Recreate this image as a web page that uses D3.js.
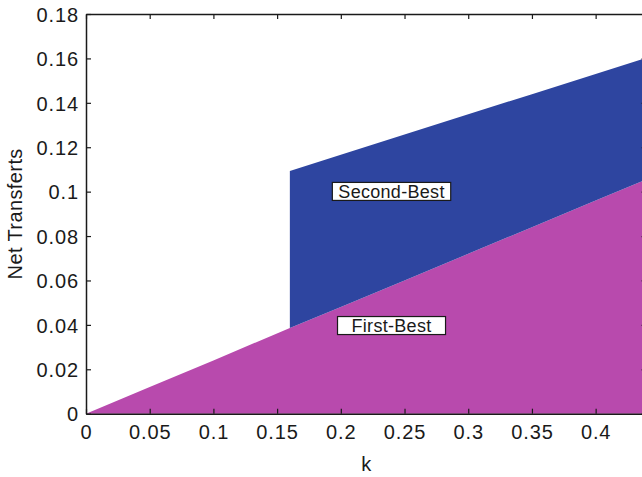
<!DOCTYPE html>
<html>
<head>
<meta charset="utf-8">
<script src="https://cdn.jsdelivr.net/npm/d3@7"></script>
<style>
  html, body { margin: 0; padding: 0; background: #fff; }
  svg { display: block; }
  text { font-family: "Liberation Sans", Arial, Helvetica, sans-serif; fill: #1a1a1a; }
</style>
</head>
<body>
<svg id="chart" width="642" height="477"></svg>
<script>
// ---- data ----
const kValues      = [0, 0.05, 0.10, 0.16, 0.20, 0.25, 0.30, 0.35, 0.40, 0.44];
const firstBest    = [0, 0.012, 0.024, 0.0386, 0.048, 0.060, 0.072, 0.084, 0.096, 0.1056];
const secondBestK  = [0.16, 0.20, 0.25, 0.30, 0.35, 0.40, 0.44];
const secondBest   = [0.1093, 0.1166, 0.1257, 0.1348, 0.1439, 0.1530, 0.1603];
const xTicks = [0, 0.05, 0.1, 0.15, 0.2, 0.25, 0.3, 0.35, 0.4];
const xTickLabels = ["0", "0.05", "0.1", "0.15", "0.2", "0.25", "0.3", "0.35", "0.4"];
const yTicks = [0, 0.02, 0.04, 0.06, 0.08, 0.1, 0.12, 0.14, 0.16, 0.18];
const yTickLabels = ["0", "0.02", "0.04", "0.06", "0.08", "0.1", "0.12", "0.14", "0.16", "0.18"];
const labelTexts = ["Second-Best", "First-Best"];
const labelK     = [0.2398, 0.2398];
const labelV     = [0.1001, 0.0397];

// ---- layout ----
const margin = {left: 86, top: 14};
const plotW = 560.6, plotH = 399.7;
const svg = d3.select("#chart");

const x = d3.scaleLinear().domain([0, 0.44]).range([margin.left, margin.left + plotW]);
const y = d3.scaleLinear().domain([0, 0.18]).range([margin.top + plotH, margin.top]);

const purple = "#b84aad";
const blue = "#2e45a0";

// first-best region
const fbData = kValues.map((k, i) => ({k, v: firstBest[i]}));
svg.append("path")
  .datum(fbData)
  .attr("fill", purple)
  .attr("d", d3.area().x(d => x(d.k)).y0(y(0)).y1(d => y(d.v)));

// second-best region (between first-best line and second-best line)
const fbAt = k => {
  const i = d3.bisectLeft(kValues, k);
  if (kValues[i] === k) return firstBest[i];
  const t = (k - kValues[i - 1]) / (kValues[i] - kValues[i - 1]);
  return firstBest[i - 1] + t * (firstBest[i] - firstBest[i - 1]);
};
const sbData = secondBestK.map((k, i) => ({k, lo: fbAt(k), hi: secondBest[i]}));
svg.append("path")
  .datum(sbData)
  .attr("fill", blue)
  .attr("d", d3.area().x(d => x(d.k)).y0(d => y(d.lo)).y1(d => y(d.hi)));

// ---- axes (box, inward ticks) ----
const fs = 20;
const tickLen = 5;
const axisColor = "#1a1a1a";

const gBottom = svg.append("g").attr("transform", `translate(0,${y(0)})`)
  .call(d3.axisBottom(x).tickValues(xTicks).tickSizeInner(-tickLen).tickSizeOuter(0)
    .tickPadding(11).tickFormat((d, i) => xTickLabels[i]));
const gTop = svg.append("g").attr("transform", `translate(0,${y(0.18)})`)
  .call(d3.axisTop(x).tickValues(xTicks).tickSizeInner(-tickLen).tickSizeOuter(0).tickFormat(""));
const gLeft = svg.append("g").attr("transform", `translate(${x(0)},0)`)
  .call(d3.axisLeft(y).tickValues(yTicks).tickSizeInner(-tickLen).tickSizeOuter(0)
    .tickPadding(7).tickFormat((d, i) => yTickLabels[i]));
const gRight = svg.append("g").attr("transform", `translate(${x(0.44)},0)`)
  .call(d3.axisRight(y).tickValues(yTicks).tickSizeInner(-tickLen).tickSizeOuter(0).tickFormat(""));

[gBottom, gTop, gLeft, gRight].forEach(g => {
  g.select(".domain").attr("stroke", axisColor).attr("stroke-width", 1.5);
  g.selectAll(".tick line").attr("stroke", axisColor).attr("stroke-width", 1.2);
  g.selectAll("text").attr("font-size", fs).attr("fill", axisColor)
    .style("font-family", '"Liberation Sans", Arial, sans-serif')
    .attr("letter-spacing", 0.9);
});
gLeft.selectAll("text").attr("dy", "0.36em");

// axis titles
svg.append("text")
  .attr("x", x(0.22)).attr("y", 471)
  .attr("text-anchor", "middle").attr("font-size", fs)
  .text("k");
svg.append("text")
  .attr("transform", `translate(21.5,${y(0.09)}) rotate(-90)`)
  .attr("text-anchor", "middle").attr("font-size", fs).attr("letter-spacing", 0.4)
  .text("Net Transferts");

// boxed labels
const boxPad = [6, 14];
labelTexts.forEach((txt, i) => {
  const g = svg.append("g");
  const t = g.append("text")
    .attr("x", x(labelK[i])).attr("y", y(labelV[i]))
    .attr("text-anchor", "middle").attr("dy", "0.35em")
    .attr("font-size", 18).attr("letter-spacing", 0.3)
    .text(txt);
  const bb = t.node().getBBox();
  const w = bb.width + 2 * boxPad[i];
  g.insert("rect", "text")
    .attr("x", x(labelK[i]) - w / 2).attr("y", y(labelV[i]) - 9)
    .attr("width", w).attr("height", 18)
    .attr("fill", "#fff").attr("stroke", "#1a1a1a").attr("stroke-width", 1.2);
});
</script>
</body>
</html>
